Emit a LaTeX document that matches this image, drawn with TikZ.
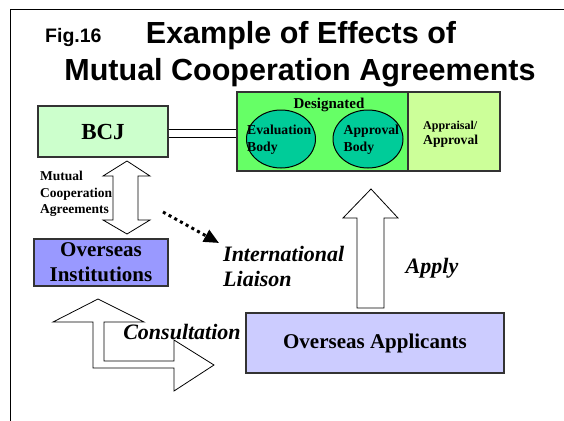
\documentclass[tikz,border=0pt]{standalone}
\usepackage{fontspec}
\setmainfont{Liberation Serif}
\setsansfont{Liberation Sans}
\usetikzlibrary{shapes.geometric,arrows.meta}
\definecolor{bcjgreen}{HTML}{CCFFCC}
\definecolor{desgreen}{HTML}{66FF66}
\definecolor{appgreen}{HTML}{CCFF99}
\definecolor{elltea}{HTML}{00CC99}
\definecolor{instblue}{HTML}{9999FF}
\definecolor{applblue}{HTML}{CCCCFF}
\definecolor{edge}{HTML}{333333}
\tikzset{
  box/.style={draw=edge, line width=1.3pt, inner sep=0pt, anchor=center},
  ell/.style={ellipse, draw=black, line width=1pt, fill=elltea, inner sep=0pt},
  blockarrow/.style={draw=black, line width=0.8pt, fill=white, line join=miter},
  lbl/.style={inner sep=0pt, text=black},
}
\begin{document}
\begin{tikzpicture}[x=1pt,y=-1pt]
\useasboundingbox (0,0) rectangle (564,420);
\fill[white] (0,0) rectangle (564,420);
% frame
\coordinate (fbl) at (10.5,421);
\coordinate (ftl) at (10.5,9.5);
\coordinate (ftr) at (565,9.5);
\draw[line width=1.6pt] (fbl) -- (ftl) -- (ftr);
% title
\node[lbl, anchor=base west, font=\sffamily\bfseries\fontsize{19.5}{22}\selectfont] (fig) at (45,42) {Fig.16};
\node[lbl, anchor=base, font=\sffamily\bfseries\fontsize{30.5}{34}\selectfont] (t1) at (301,44) {Example of Effects of};
\node[lbl, anchor=base, font=\sffamily\bfseries\fontsize{30.5}{34}\selectfont] (t2) at (300,80) {Mutual Cooperation Agreements};
% boxes
\node[box, fill=bcjgreen, minimum width=130pt, minimum height=51pt,
      font=\bfseries\fontsize{23}{26}\selectfont] (bcj) at (103,131.5) {BCJ};
\node[box, fill=desgreen, minimum width=171pt, minimum height=79pt] (des) at (322.5,131.5) {};
\node[box, fill=appgreen, minimum width=92pt, minimum height=79pt] (appr) at (454,131.5) {};
\node[ell, minimum width=69pt, minimum height=58pt] (eval) at (281,139) {};
\node[ell, minimum width=70pt, minimum height=58pt] (apb) at (368,139) {};
\node[lbl, font=\bfseries\fontsize{15}{17}\selectfont] (desl) at (329,105) {Designated};
\node[lbl, anchor=west, align=left, font=\bfseries\fontsize{13.7}{17}\selectfont] (evall) at (247,139.5) {Evaluation\\Body};
\node[lbl, anchor=west, align=left, font=\bfseries\fontsize{13.7}{17}\selectfont] (apbl) at (343.5,139.5) {Approval\\Body};
\node[lbl, anchor=west, align=left, font=\bfseries\fontsize{13.6}{15}\selectfont] (apprl) at (423,134.5) {{\fontsize{12}{15}\selectfont Appraisal/}\\Approval};
\node[box, fill=instblue, minimum width=134pt, minimum height=47pt, align=center,
      font=\bfseries\fontsize{21}{25}\selectfont] (inst) at (101,262.5) {Overseas\\Institutions};
\node[box, fill=applblue, minimum width=258pt, minimum height=60pt,
      font=\bfseries\fontsize{21}{24}\selectfont] (appl) at (375,343) {Overseas Applicants};
% BCJ -- Designated double line
\draw[line width=1pt, double=white, double distance=7.5pt] ([yshift=-2pt]bcj.east) -- ([yshift=-2pt]des.west);
% mutual double arrow
\draw[blockarrow] (127,161) -- (150,176) -- (138,176) -- (138,220) -- (150,220) -- (127,234)
   -- (103,220) -- (113,220) -- (113,176) -- (103,176) -- cycle;
\node[lbl, anchor=west, align=left, font=\bfseries\fontsize{13.5}{16.5}\selectfont] (mca) at (40,194) {Mutual\\Cooperation\\Agreements};
% international liaison
\node[lbl, anchor=west, align=left, font=\bfseries\itshape\fontsize{22}{25}\selectfont] (liai) at (223,266) {International\\Liaison};
\coordinate (dstart) at (163,212);
\coordinate (dend) at (219,243);
\draw[line width=3pt, dash pattern=on 3pt off 3.5pt, -{Triangle[length=15pt,width=13pt]}] (dstart) -- (dend);
% apply arrow
\draw[blockarrow] (371,189) -- (398,218) -- (384,218) -- (384,308) -- (357,308) -- (357,218) -- (343,218) -- cycle;
\node[lbl, font=\bfseries\itshape\fontsize{22}{25}\selectfont] (apply) at (432,268) {Apply};
% consultation arrow
\draw[blockarrow] (98,299) -- (144,322) -- (104,322) -- (104,361) -- (174,361) -- (174,340)
   -- (214,365) -- (174,391) -- (174,368) -- (93,368) -- (93,322) -- (53,322) -- cycle;
\node[lbl, font=\bfseries\itshape\fontsize{22}{25}\selectfont] (cons) at (182,332) {Consultation};
\end{tikzpicture}
\end{document}
